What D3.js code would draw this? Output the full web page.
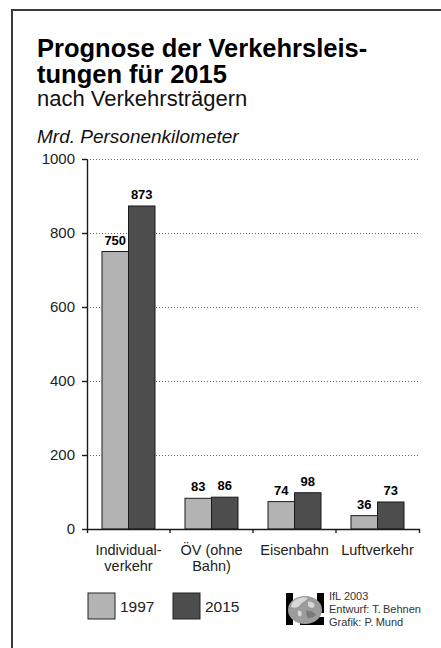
<!DOCTYPE html>
<html>
<head>
<meta charset="utf-8">
<script src="https://cdn.jsdelivr.net/npm/d3@7"></script>
<style>
  html, body { margin: 0; padding: 0; background: #fff; }
  svg { display: block; font-family: "Liberation Sans", Arial, Helvetica, sans-serif; }
</style>
</head>
<body>
<svg id="chart" width="441" height="648"></svg>
<script>
// Verkehrsträger and forecast values (Mrd. Personenkilometer)
const categories = ["Individualverkehr", "ÖV (ohne Bahn)", "Eisenbahn", "Luftverkehr"];
const categoryLines = [["Individual-", "verkehr"], ["ÖV (ohne", "Bahn)"], ["Eisenbahn"], ["Luftverkehr"]];
const seriesNames = ["1997", "2015"];
const values1997 = [750, 83, 74, 36];
const values2015 = [873, 86, 98, 73];
const yTicks = [0, 200, 400, 600, 800, 1000];
const seriesColors = ["#b3b3b3", "#4d4d4d"];

const titleLines = ["Prognose der Verkehrsleis-", "tungen für 2015"];
const subtitle = "nach Verkehrsträgern";
const unitLabel = "Mrd. Personenkilometer";
const credits = ["IfL 2003", "Entwurf: T.\u2009Behnen", "Grafik: P.\u2009Mund"];

const seriesValues = [values1997, values2015];
const rows = categories.map((c, i) => ({
  cat: c,
  vals: seriesNames.map((s, j) => ({ series: s, value: seriesValues[j][i], color: seriesColors[j] }))
}));

const svg = d3.select("#chart");
const ink = "#1a1a1a";

// frame
svg.append("path")
  .attr("d", "M12,648V10H441")
  .attr("fill", "none")
  .attr("stroke", "#3a3a3a")
  .attr("stroke-width", 2);

// headings
const title = svg.append("text")
  .attr("x", 37).attr("fill", "#000")
  .attr("font-weight", "bold").attr("font-size", 25.5);
titleLines.forEach((t, i) => {
  title.append("tspan").attr("x", 37).attr("y", 57 + i * 25.5).text(t);
});
svg.append("text").attr("x", 37).attr("y", 106)
  .attr("font-size", 22).attr("fill", "#111").text(subtitle);
svg.append("text").attr("x", 37).attr("y", 143)
  .attr("font-size", 19).attr("font-style", "italic").attr("fill", "#111").text(unitLabel);

// scales
const x = d3.scaleBand().domain(categories).range([87, 419]).padding(0);
const xs = d3.scaleBand().domain(seriesNames).range([0, x.bandwidth()])
  .paddingInner(0).paddingOuter(0.566);
const y = d3.scaleLinear().domain([0, 1000]).range([529, 159]);

// dotted gridlines
svg.append("g").selectAll("line")
  .data(yTicks.filter(d => d > 0))
  .join("line")
  .attr("x1", 87).attr("x2", 419)
  .attr("y1", d => y(d) + 0.5).attr("y2", d => y(d) + 0.5)
  .attr("stroke", "#666")
  .attr("stroke-width", 1)
  .attr("stroke-dasharray", "1,2");

// bars
const groups = svg.append("g").selectAll("g")
  .data(rows)
  .join("g")
  .attr("transform", d => `translate(${x(d.cat)},0)`);

groups.selectAll("rect")
  .data(d => d.vals)
  .join("rect")
  .attr("x", d => xs(d.series))
  .attr("y", d => y(d.value))
  .attr("width", xs.bandwidth())
  .attr("height", d => y(0) - y(d.value))
  .attr("fill", d => d.color)
  .attr("stroke", ink)
  .attr("stroke-width", 1);

groups.selectAll("text")
  .data(d => d.vals)
  .join("text")
  .attr("x", d => xs(d.series) + xs.bandwidth() / 2)
  .attr("y", d => y(d.value) - 7)
  .attr("text-anchor", "middle")
  .attr("font-weight", "bold")
  .attr("font-size", 13)
  .attr("fill", "#000")
  .text(d => d.value);

// y axis
const yAxis = svg.append("g")
  .attr("transform", "translate(87,0)")
  .call(d3.axisLeft(y).tickValues(yTicks).tickSize(5).tickSizeOuter(0).tickPadding(7).tickFormat(d3.format("d")));
yAxis.select(".domain").attr("stroke", ink).attr("stroke-width", 1.4);
yAxis.selectAll(".tick line").attr("stroke", ink).attr("stroke-width", 1.4);
yAxis.selectAll(".tick text")
  .attr("font-size", 15).attr("fill", "#222")
  .attr("font-family", "'Liberation Sans', Arial, sans-serif");

// x axis
const xAxis = svg.append("g")
  .attr("transform", "translate(0,529)")
  .call(d3.axisBottom(x).tickSize(0).tickSizeOuter(4).tickFormat(() => ""));
xAxis.select(".domain").attr("stroke", ink).attr("stroke-width", 1.4);
xAxis.selectAll(".tick").remove();

// band boundary ticks
svg.append("g").selectAll("line")
  .data(categories.slice(0, -1))
  .join("line")
  .attr("x1", d => x(d) + x.bandwidth()).attr("x2", d => x(d) + x.bandwidth())
  .attr("y1", 529).attr("y2", 533)
  .attr("stroke", ink).attr("stroke-width", 1.4);

// category labels
const catLabels = svg.append("g").selectAll("text")
  .data(categories)
  .join("text")
  .attr("text-anchor", "middle")
  .attr("font-size", 14.5)
  .attr("fill", "#222");
catLabels.each(function (d, i) {
  const cx = x(d) + x.bandwidth() / 2;
  d3.select(this).selectAll("tspan")
    .data(categoryLines[i])
    .join("tspan")
    .attr("x", cx)
    .attr("y", (t, k) => 555 + k * 16)
    .text(t => t);
});

// legend
const legend = svg.append("g").selectAll("g")
  .data(seriesNames)
  .join("g")
  .attr("transform", (d, i) => `translate(${88 + i * 85},593)`);
legend.append("rect")
  .attr("width", 27).attr("height", 26)
  .attr("fill", (d, i) => seriesColors[i])
  .attr("stroke", "#222").attr("stroke-width", 1);
legend.append("text")
  .attr("x", 32).attr("y", 19)
  .attr("font-size", 15.5).attr("fill", "#222")
  .text(d => d);

// institute mark: framed globe
const logo = svg.append("g").attr("transform", "translate(286,593)");
logo.append("clipPath").attr("id", "logoClip")
  .append("rect").attr("width", 38).attr("height", 32);
const lg = logo.append("g").attr("clip-path", "url(#logoClip)");
lg.append("rect").attr("x", 0).attr("y", 0).attr("width", 7).attr("height", 32).attr("fill", "#000");
lg.append("rect").attr("x", 31).attr("y", 0).attr("width", 7).attr("height", 20).attr("fill", "#000");
lg.append("rect").attr("x", 14).attr("y", 24).attr("width", 24).attr("height", 8).attr("fill", "#000");
lg.append("ellipse").attr("cx", 19).attr("cy", 17).attr("rx", 17).attr("ry", 14).attr("fill", "#9c9c9c");
lg.append("path")
  .attr("d", "M6,10 C10,5 17,3 22,5 C20,8 16,9 14,12 C12,15 9,15 5,14 Z M22,9 C26,8 30,11 28,14 C26,16 22,14 22,12 Z M12,18 C15,17 17,20 15,23 C13,24 11,22 12,18 Z")
  .attr("fill", "#d8d8d8");
lg.append("path")
  .attr("d", "M20,18 C24,17 28,19 30,22 C27,25 23,26 21,24 Z")
  .attr("fill", "#7a7a7a");

svg.append("g").selectAll("text")
  .data(credits)
  .join("text")
  .attr("x", 329)
  .attr("y", (d, i) => 600 + i * 13)
  .attr("font-size", 11)
  .attr("fill", "#333")
  .text(d => d);
</script>
</body>
</html>
